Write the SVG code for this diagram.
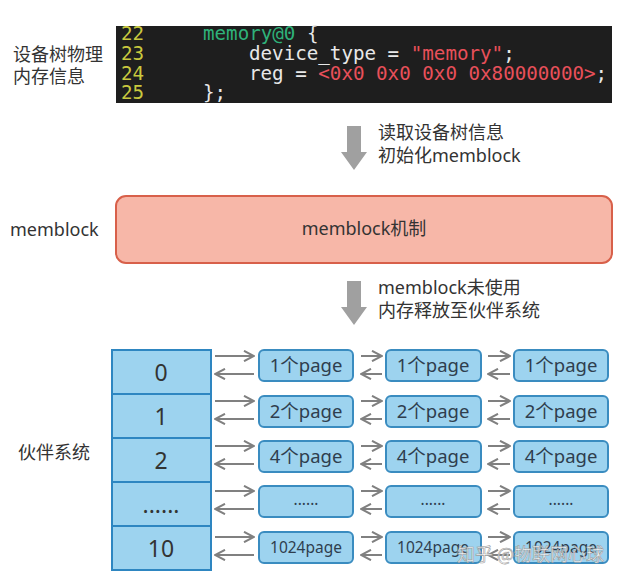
<svg xmlns="http://www.w3.org/2000/svg" width="628" height="583" viewBox="0 0 628 583">
<defs>
<style>
.cn{font-family:"Noto Sans","Noto Sans CJK SC",sans-serif;fill:#333;font-size:18px}
.code{font-family:"DejaVu Sans Mono",monospace;font-size:19.2px;white-space:pre}
.ln{fill:#c9c93e}
.w{fill:#e8e8e8}
.g{fill:#2fb27a}
.r{fill:#e8505a}
.cell{fill:#9dd3ef;stroke:#2e86c1;stroke-width:2}
.pg{fill:#9dd3ef;stroke:#3a8cc0;stroke-width:2}
.num{font-family:"Noto Sans",sans-serif;font-size:23px;fill:#333;text-anchor:middle}
.pt{font-family:"Noto Sans","Noto Sans CJK SC",sans-serif;font-size:18.5px;fill:#2f3e4e;text-anchor:middle}
.pt2{font-family:"Noto Sans",sans-serif;font-size:15.5px;fill:#2f3e4e;text-anchor:middle}
.ar{stroke:#808080;stroke-width:2;fill:none;marker-end:url(#ah)}
.blk{fill:#a0a0a0}
</style>
<marker id="ah" viewBox="0 0 12 12" refX="11" refY="6" markerWidth="12" markerHeight="12" markerUnits="userSpaceOnUse" orient="auto">
<path d="M1,0.8 L11,6 L1,11.2" fill="none" stroke="#808080" stroke-width="2"/>
</marker>
</defs>
<rect width="628" height="583" fill="#fff"/>

<g id="code">
<rect x="116" y="26" width="496" height="77" fill="#1e1e1e"/>
<text class="code ln"><tspan x="121" y="40">22</tspan><tspan x="121" y="60">23</tspan><tspan x="121" y="80">24</tspan><tspan x="121" y="99">25</tspan></text>
<text class="code"><tspan x="203" y="40" class="g">memory@0</tspan><tspan class="w"> {</tspan><tspan x="249" y="60" class="w">device_type = </tspan><tspan class="r">"memory"</tspan><tspan class="w">;</tspan><tspan x="249" y="80" class="w">reg = </tspan><tspan class="r">&lt;0x0 0x0 0x0 0x80000000&gt;</tspan><tspan class="w">;</tspan><tspan x="203" y="99" class="w">};</tspan></text>
</g>
<g id="label-dt">
<text class="cn"><tspan x="13" y="61">设备树物理</tspan><tspan x="13" y="83">内存信息</tspan></text>
</g>

<g id="arrow1">
<path class="blk" d="M347,126 H361 V152 H367 L354,170 L341,152 H347 Z"/>
<text class="cn" x="378" y="139">读取设备树信息</text>
<text class="cn" x="378" y="162">初始化memblock</text>
</g>

<g id="memblock-label"><text class="cn" x="10" y="236">memblock</text></g>
<g id="memblock">
<rect x="116" y="196" width="496" height="67" rx="10" fill="#f7b7a8" stroke="#d8604a" stroke-width="2"/>
<text class="cn" x="364" y="235" text-anchor="middle" fill="#4a3030">memblock机制</text>
</g>

<g id="arrow2">
<path class="blk" d="M347,281 H361 V307 H367 L354,325 L341,307 H347 Z"/>
<text class="cn" x="378" y="294">memblock未使用</text>
<text class="cn" x="378" y="317">内存释放至伙伴系统</text>
</g>

<g id="buddy-label"><text class="cn" x="18" y="459">伙伴系统</text></g>

<g id="buddy-table">
<rect class="cell" x="112" y="350" width="99" height="44"/>
<rect class="cell" x="112" y="394" width="99" height="44"/>
<rect class="cell" x="112" y="438" width="99" height="44"/>
<rect class="cell" x="112" y="482" width="99" height="44"/>
<rect class="cell" x="112" y="526" width="99" height="44"/>
<text class="num" x="161" y="381">0</text>
<text class="num" x="161" y="425">1</text>
<text class="num" x="161" y="469">2</text>
<text class="num" x="161" y="513">......</text>
<text class="num" x="161" y="557">10</text>
</g>

<g id="pages-col1">
<rect class="pg" x="259" y="350" width="94" height="31" rx="5"/>
<rect class="pg" x="259" y="396" width="94" height="31" rx="5"/>
<rect class="pg" x="259" y="441" width="94" height="31" rx="5"/>
<rect class="pg" x="259" y="486" width="94" height="31" rx="5"/>
<rect class="pg" x="259" y="532" width="94" height="31" rx="5"/>
<text class="pt" x="306" y="372">1个page</text>
<text class="pt" x="306" y="418">2个page</text>
<text class="pt" x="306" y="463">4个page</text>
<text class="pt2" x="306" y="505">......</text>
<text class="pt2" x="306" y="553">1024page</text>
</g>
<g id="pages-col2">
<rect class="pg" x="386" y="350" width="95" height="31" rx="5"/>
<rect class="pg" x="386" y="396" width="95" height="31" rx="5"/>
<rect class="pg" x="386" y="441" width="95" height="31" rx="5"/>
<rect class="pg" x="386" y="486" width="95" height="31" rx="5"/>
<rect class="pg" x="386" y="532" width="95" height="31" rx="5"/>
<text class="pt" x="433" y="372">1个page</text>
<text class="pt" x="433" y="418">2个page</text>
<text class="pt" x="433" y="463">4个page</text>
<text class="pt2" x="433" y="505">......</text>
<text class="pt2" x="433" y="553">1024page</text>
</g>
<g id="pages-col3">
<rect class="pg" x="514" y="350" width="94" height="31" rx="5"/>
<rect class="pg" x="514" y="396" width="94" height="31" rx="5"/>
<rect class="pg" x="514" y="441" width="94" height="31" rx="5"/>
<rect class="pg" x="514" y="486" width="94" height="31" rx="5"/>
<rect class="pg" x="514" y="532" width="94" height="31" rx="5"/>
<text class="pt" x="561" y="372">1个page</text>
<text class="pt" x="561" y="418">2个page</text>
<text class="pt" x="561" y="463">4个page</text>
<text class="pt2" x="561" y="505">......</text>
<text class="pt2" x="561" y="553">1024page</text>
</g>

<g id="connectors">
<path class="ar" d="M215,356 H254"/><path class="ar" d="M254,374 H215"/>
<path class="ar" d="M215,401 H254"/><path class="ar" d="M254,419 H215"/>
<path class="ar" d="M215,446 H254"/><path class="ar" d="M254,464 H215"/>
<path class="ar" d="M215,491 H254"/><path class="ar" d="M254,509 H215"/>
<path class="ar" d="M215,537 H254"/><path class="ar" d="M254,555 H215"/>
<path class="ar" d="M361,356 H382"/><path class="ar" d="M382,374 H361"/>
<path class="ar" d="M361,401 H382"/><path class="ar" d="M382,419 H361"/>
<path class="ar" d="M361,446 H382"/><path class="ar" d="M382,464 H361"/>
<path class="ar" d="M361,491 H382"/><path class="ar" d="M382,509 H361"/>
<path class="ar" d="M361,537 H382"/><path class="ar" d="M382,555 H361"/>
<path class="ar" d="M488,356 H510"/><path class="ar" d="M510,374 H488"/>
<path class="ar" d="M488,401 H510"/><path class="ar" d="M510,419 H488"/>
<path class="ar" d="M488,446 H510"/><path class="ar" d="M510,464 H488"/>
<path class="ar" d="M488,491 H510"/><path class="ar" d="M510,509 H488"/>
<path class="ar" d="M488,537 H510"/><path class="ar" d="M510,555 H488"/>
</g>

<g id="watermark">
<text x="457" y="561" font-family="Noto Sans CJK SC,sans-serif" font-size="18" fill="#ffffff" fill-opacity="0.85" stroke="#9a9a9a" stroke-width="0.6">知乎 @物联网心球</text>
</g>
</svg>
